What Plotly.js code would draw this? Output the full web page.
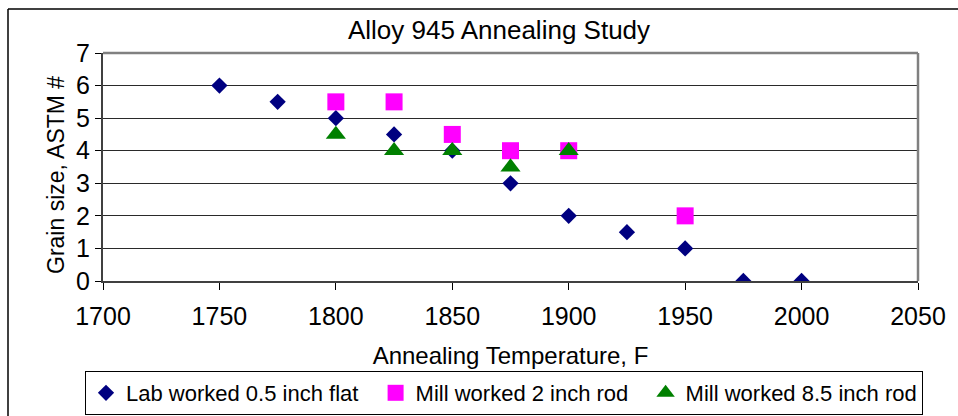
<!DOCTYPE html>
<html>
<head>
<meta charset="utf-8">
<script src="https://cdn.plot.ly/plotly-3.0.1.min.js"></script>
<style>
html,body{margin:0;padding:0;background:#fff;}
#chart{width:958px;height:416px;}
</style>
</head>
<body>
<div id="chart"></div>
<script>
// Data
const labTemp = [1750, 1775, 1800, 1825, 1850, 1875, 1900, 1925, 1950, 1975, 2000];
const labGrain = [6, 5.5, 5, 4.5, 4, 3, 2, 1.5, 1, 0, 0];

const rod2Temp = [1800, 1825, 1850, 1875, 1900, 1950];
const rod2Grain = [5.5, 5.5, 4.5, 4, 4, 2];

const rod85Temp = [1800, 1825, 1850, 1875, 1900];
const rod85Grain = [4.5, 4, 4, 3.5, 4];

const seriesNames = ["Lab worked 0.5 inch flat", "Mill worked 2 inch rod", "Mill worked 8.5 inch rod"];
const xTicks = [1700, 1750, 1800, 1850, 1900, 1950, 2000, 2050];
const yTicks = [0, 1, 2, 3, 4, 5, 6, 7];

const FONT = "Liberation Sans, Arial, sans-serif";

// plot area in pixels: left 103, right 918, top 53, bottom 281
const W = 958, H = 416, L = 103, R = 918, T = 53, B = 281;
const px = p => (p - L) / (R - L);
const py = p => (B - p) / (B - T);
const pad = "\u00a0\u00a0";

const traces = [
  {x: labTemp, y: labGrain, name: seriesNames[0] + pad, type: "scatter", mode: "markers",
   marker: {symbol: "diamond", size: 12.5, color: "#000080", line: {width: 0}}},
  {x: rod2Temp, y: rod2Grain, name: seriesNames[1] + pad, type: "scatter", mode: "markers",
   marker: {symbol: "square", size: 17, color: "#FF00FF", line: {width: 0}}},
  {x: rod85Temp, y: rod85Grain, name: seriesNames[2], type: "scatter", mode: "markers",
   marker: {symbol: "triangle-up", size: 17.5, color: "#008000", line: {width: 0}}}
];

const layout = {
  width: W, height: H,
  margin: {l: L, r: W - R, t: T, b: H - B, pad: 0, autoexpand: false},
  paper_bgcolor: "#ffffff", plot_bgcolor: "#ffffff",
  font: {family: FONT, size: 22, color: "#000"},
  showlegend: true,
  title: {text: "Alloy 945 Annealing Study", font: {family: FONT, size: 26, color: "#000"},
          xref: "paper", x: px(499), xanchor: "center",
          yref: "container", y: 1 - 30 / H, yanchor: "middle"},
  xaxis: {
    range: [1700, 2050], tickvals: xTicks, ticktext: xTicks.map(String),
    showgrid: false, zeroline: false, automargin: false,
    showline: true, linecolor: "#404040", linewidth: 2,
    ticks: "outside", ticklen: 7, tickwidth: 1, tickcolor: "#000",
    ticklabelstandoff: 5,
    tickfont: {family: FONT, size: 25, color: "#000"},
    title: {text: "Annealing Temperature, F", font: {family: FONT, size: 24, color: "#000"}, standoff: 18},
    fixedrange: true
  },
  yaxis: {
    range: [0, 7], tickvals: yTicks, ticktext: yTicks.map(String),
    showgrid: true, gridcolor: "#2a2a2a", gridwidth: 1, zeroline: false, automargin: false,
    showline: true, linecolor: "#404040", linewidth: 2,
    ticks: "outside", ticklen: 6, tickwidth: 1, tickcolor: "#000",
    tickfont: {family: FONT, size: 25, color: "#000"},
    fixedrange: true
  },
  annotations: [
    {text: "Grain size, ASTM #", textangle: -90, showarrow: false,
     xref: "paper", yref: "paper", x: px(56), y: py(175), xanchor: "center", yanchor: "middle",
     font: {family: FONT, size: 23, color: "#000"}}
  ],
  legend: {
    orientation: "h", xref: "paper", x: px(85), xanchor: "left",
    yref: "paper", y: py(371), yanchor: "top",
    bordercolor: "#000", borderwidth: 1, bgcolor: "#fff",
    font: {family: FONT, size: 22, color: "#000"},
    itemwidth: 30, tracegroupgap: 0
  },
  shapes: [
    // top and right plot frame (grey)
    {type: "line", xref: "paper", yref: "paper", x0: 0, x1: 1, y0: 1, y1: 1,
     line: {color: "#808080", width: 2.5}},
    {type: "line", xref: "paper", yref: "paper", x0: 1, x1: 1, y0: 0, y1: 1,
     line: {color: "#808080", width: 2.5}},
    // outer chart frame (left and top edges visible)
    {type: "line", xref: "paper", yref: "paper", x0: px(8), x1: px(8), y0: py(9), y1: py(430),
     line: {color: "#000", width: 1.5}},
    {type: "line", xref: "paper", yref: "paper", x0: px(8), x1: px(970), y0: py(9), y1: py(9),
     line: {color: "#000", width: 1.5}}
  ]
};

Plotly.newPlot("chart", traces, layout, {displayModeBar: false, staticPlot: true});
</script>
</body>
</html>
